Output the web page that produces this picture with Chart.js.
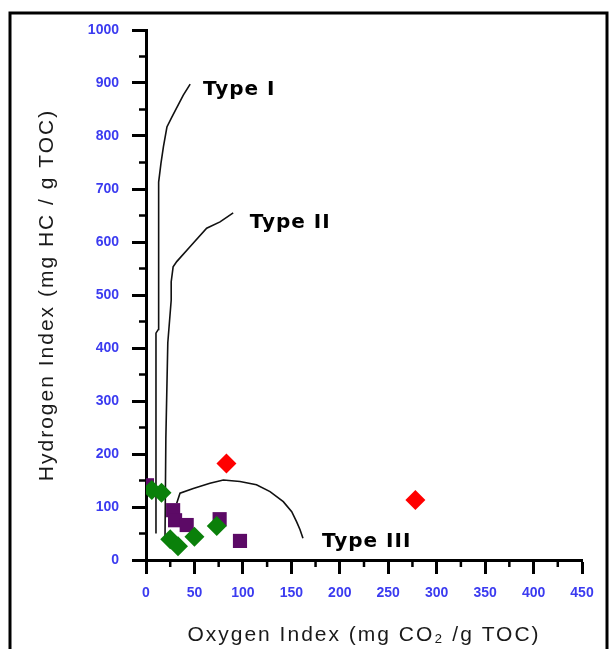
<!DOCTYPE html>
<html>
<head>
<meta charset="utf-8">
<script src="https://cdn.jsdelivr.net/npm/chart.js@4.4.1/dist/chart.umd.min.js"></script>
<style>
  body { margin: 0; background: #fff; }
</style>
</head>
<body>
<canvas id="myChart" width="611" height="649"></canvas>
<script>
// samples (OI, HI)
const purpleOI = [1, 28, 30, 42, 76, 97];
const purpleHI = [141, 94, 75, 66, 77, 36];
const greenOI = [6, 16, 25, 33, 50, 73];
const greenHI = [132, 127, 39, 26, 44, 64];
const redOI = [83, 278];
const redHI = [182, 113];

// kerogen type curves
const typeIOI = [10.3, 10.3, 12.7, 12.7, 13.4, 15.4, 18, 21.6, 26.8, 38.5, 45.6];
const typeIHI = [50, 428, 435, 700, 713, 748, 780, 817, 836, 877, 898];
const typeIIOI = [19.6, 20.5, 22.5, 26, 26, 28, 31.7, 45.4, 62.6, 76.4, 90];
const typeIIHI = [38, 230, 410, 490, 525, 553, 563, 591, 626, 638, 655];
const typeIIIOI = [31.7, 35.1, 48.8, 66, 79.8, 97, 114, 128, 141.7, 150.4, 155.5, 159, 162];
const typeIIIHI = [107, 126, 135, 145, 151, 148, 142, 129, 110, 91, 72, 57, 41];

const typeNames = ['Type I', 'Type II', 'Type III'];
const typeNameOI = [58.8, 107, 181.6];
const typeNameHI = [877, 626, 24.5];

const xTicks = [0, 50, 100, 150, 200, 250, 300, 350, 400, 450];
const yTicks = [0, 100, 200, 300, 400, 500, 600, 700, 800, 900, 1000];

function pts(xs, ys) {
  return xs.map((x, i) => ({x: x, y: ys[i]}));
}

function curve(xs, ys) {
  return {
    data: pts(xs, ys),
    showLine: true,
    borderColor: '#111',
    borderWidth: 1.6,
    pointRadius: 0,
    tension: 0,
    fill: false
  };
}

const frame = {
  id: 'frame',
  beforeDraw(chart) {
    const ctx = chart.ctx;
    ctx.save();
    ctx.fillStyle = '#fff';
    ctx.fillRect(0, 0, chart.width, chart.height);
    ctx.strokeStyle = '#000';
    ctx.lineWidth = 3;
    ctx.strokeRect(10, 13, 597, 700);
    ctx.restore();
  }
};

const extras = {
  id: 'extras',
  afterDraw(chart) {
    const ctx = chart.ctx;
    const xs = chart.scales.x, ys = chart.scales.y;
    ctx.save();
    // minor ticks
    ctx.strokeStyle = '#000';
    ctx.lineWidth = 2.5;
    ctx.beginPath();
    for (let v = 25; v < 450; v += 50) {
      const p = xs.getPixelForValue(v);
      ctx.moveTo(p, ys.bottom);
      ctx.lineTo(p, ys.bottom + 7);
    }
    for (let v = 50; v < 1000; v += 100) {
      const p = ys.getPixelForValue(v);
      ctx.moveTo(xs.left, p);
      ctx.lineTo(xs.left - 7, p);
    }
    ctx.stroke();
    // curve names
    ctx.fillStyle = '#000';
    ctx.font = 'bold 20px "DejaVu Sans"';
    ctx.letterSpacing = '1px';
    ctx.textAlign = 'left';
    ctx.textBaseline = 'alphabetic';
    typeNames.forEach((t, i) => {
      ctx.fillText(t, xs.getPixelForValue(typeNameOI[i]), ys.getPixelForValue(typeNameHI[i]));
    });
    ctx.restore();
  }
};

function spacedTitle(scale) {
  if (scale._spaced) return;
  const orig = scale.drawTitle.bind(scale);
  scale.drawTitle = function () {
    scale.ctx.save();
    scale.ctx.letterSpacing = '2px';
    orig();
    scale.ctx.restore();
  };
  scale._spaced = true;
}

const tickFont = {family: '"Liberation Sans", Arial', size: 14, weight: 'bold'};
const titleFont = {family: '"Liberation Sans", Arial', size: 21};

const config = {
  type: 'scatter',
  data: {
    datasets: [
      {data: pts(redOI, redHI), pointStyle: 'rectRot', pointRadius: 10, backgroundColor: '#ff0000', borderColor: '#ff0000', borderWidth: 0},
      {data: pts(greenOI, greenHI), pointStyle: 'rectRot', pointRadius: 10, backgroundColor: '#0a800a', borderColor: '#0a800a', borderWidth: 0},
      {data: pts(purpleOI, purpleHI), pointStyle: 'rect', pointRadius: 10, backgroundColor: '#5c0a66', borderColor: '#5c0a66', borderWidth: 0},
      curve(typeIOI, typeIHI),
      curve(typeIIOI, typeIIHI),
      curve(typeIIIOI, typeIIIHI)
    ]
  },
  options: {
    responsive: false,
    animation: false,
    layout: {padding: {left: 0, top: 30, right: 29, bottom: 0}},
    plugins: {
      legend: {display: false},
      tooltip: {enabled: false}
    },
    scales: {
      x: {
        type: 'linear',
        min: 0,
        max: 450,
        afterBuildTicks: s => { s.ticks = xTicks.map(v => ({value: v})); },
        ticks: {color: '#3b3bf0', font: tickFont, padding: 11, maxRotation: 0, callback: v => String(v)},
        grid: {drawOnChartArea: false, tickLength: 14, tickColor: '#000', tickWidth: 3},
        border: {color: '#000', width: 3},
        title: {display: true, text: 'Oxygen Index (mg CO\u2082 /g TOC)', color: '#1a1a1a', font: titleFont, padding: {top: 0, bottom: 1}},
        afterFit: s => { s.height = 89; s.paddingLeft = 0; s.paddingRight = 0; spacedTitle(s); }
      },
      y: {
        type: 'linear',
        min: 0,
        max: 1000,
        afterBuildTicks: s => { s.ticks = yTicks.map(v => ({value: v})); },
        ticks: {color: '#3b3bf0', font: tickFont, padding: 13, callback: v => String(v)},
        grid: {drawOnChartArea: false, tickLength: 14, tickColor: '#000', tickWidth: 3},
        border: {color: '#000', width: 3},
        title: {display: true, text: 'Hydrogen Index (mg HC / g TOC)', color: '#1a1a1a', font: titleFont, padding: {top: 35, bottom: 0}},
        afterFit: s => { s.width = 146; s.paddingTop = 0; s.paddingBottom = 0; spacedTitle(s); }
      }
    }
  },
  plugins: [frame, extras]
};

const myChart = new Chart(document.getElementById('myChart'), config);
</script>
</body>
</html>
